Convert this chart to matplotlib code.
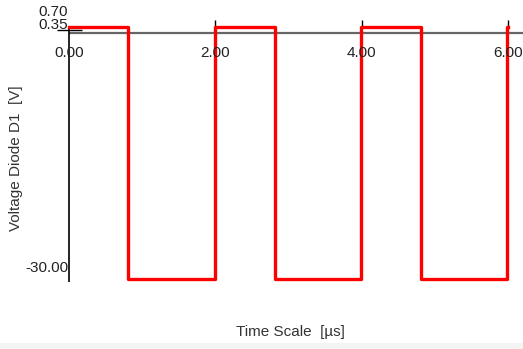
import matplotlib
matplotlib.use("Agg")
import matplotlib.pyplot as plt
from matplotlib.patches import Rectangle

plt.rcParams['font.family'] = ['Liberation Sans', 'DejaVu Sans']

# Diode D1 voltage: square wave between forward drop and reverse level
edge_times = [0.0, 0.81, 1.99, 2.81, 3.99, 4.81, 5.99, 6.0]
levels = [0.70, -30.0, 0.70, -30.0, 0.70, -30.0, 0.70, 0.70]

x_ticks = [0.0, 2.0, 4.0, 6.0]
x_tick_labels = ["0.00", "2.00", "4.00", "6.00"]
y_ticks = [0.70, 0.35, -30.0]
y_tick_labels = ["0.70", "0.35", "-30.00"]

W, H = 523, 349
fig = plt.figure(figsize=(W / 100, H / 100), dpi=100)
fig.patch.set_facecolor("white")

# faint footer band
fig.patches.append(Rectangle((0, 0), 1, 6 / H, transform=fig.transFigure,
                             facecolor="#f4f4f4", edgecolor="none", zorder=0))

left_px, right_px, top_px, bot_px = 69, 523, 20, 282
ax = fig.add_axes([left_px / W, (H - bot_px) / H,
                   (right_px - left_px) / W, (bot_px - top_px) / H])
px_per_us = (508 - 69) / 6.0
px_per_v = (279 - 33) / 30.0
ax.set_xlim(0, (right_px - left_px) / px_per_us)
ax.set_ylim(-(bot_px - 33) / px_per_v, (33 - top_px) / px_per_v)
ax.axis("off")

# zero line
ax.axhline(0, color="#666666", lw=1.6, zorder=1)
# vertical axis
ax.vlines(0, ax.get_ylim()[0], levels[0], color="black", lw=1.2, zorder=2,
          clip_on=False)
# small y tick
ax.hlines(y_ticks[1], -12 / px_per_us, 13 / px_per_us, color="black", lw=1.0,
          zorder=2, clip_on=False)
# top x ticks
for t in x_ticks[1:]:
    ax.vlines(t, levels[0], ax.get_ylim()[1], color="black", lw=1.0, zorder=2,
              clip_on=False)

# waveform
ax.step(edge_times, levels, where="post", color="#ff0000", lw=2.4, zorder=3,
        clip_on=False)

tick_font = dict(fontsize=11, color="#222222")
for t, lab in zip(x_ticks, x_tick_labels):
    ax.annotate(lab, xy=(t, 0), xycoords="data", xytext=(0, -20),
                textcoords="offset pixels", ha="center", va="center",
                annotation_clip=False, **tick_font)

y_offsets = [15, 5, 11]
for v, lab, off in zip(y_ticks, y_tick_labels, y_offsets):
    ax.annotate(lab, xy=(0, v), xycoords="data", xytext=(-1, off),
                textcoords="offset pixels", ha="right", va="center",
                annotation_clip=False, **tick_font)

fig.text(16 / W, 1 - 158 / H, "Voltage Diode D1  [V]", rotation=90,
         ha="center", va="center", fontsize=11, color="#333333")
fig.text(290 / W, 1 - 332 / H, "Time Scale  [µs]", ha="center", va="center",
         fontsize=11, color="#333333")

fig.savefig("out.png", dpi=100)
